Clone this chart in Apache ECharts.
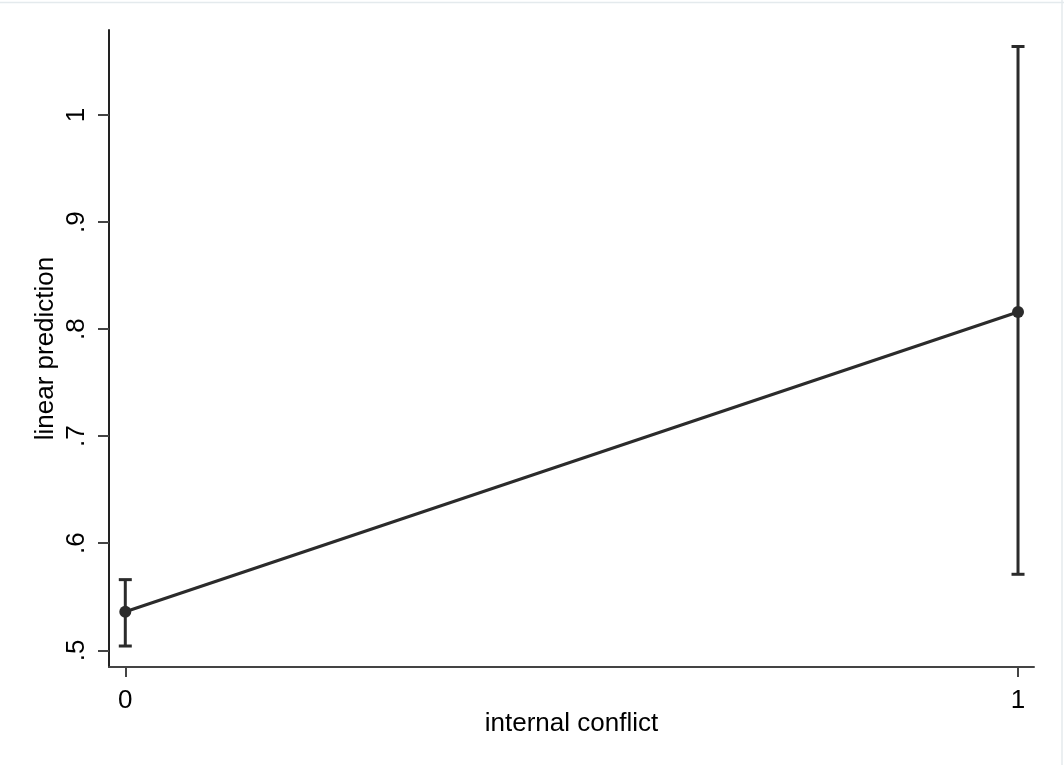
<!DOCTYPE html>
<html>
<head>
<meta charset="utf-8">
<script src="https://cdn.jsdelivr.net/npm/echarts@6/dist/echarts.min.js"></script>
<style>
  html, body { margin: 0; padding: 0; background: #ffffff; }
  #chart { width: 1064px; height: 765px; }
</style>
</head>
<body>
<div id="chart"></div>
<script>
// Predicted values with 95% confidence intervals by internal conflict status
const categories = [0, 1];
const predicted = [0.536, 0.816];
const ciLower = [0.504, 0.571];
const ciUpper = [0.566, 1.064];
const yTicks = [0.5, 0.6, 0.7, 0.8, 0.9, 1];
const xTicks = [0, 1];
const yTickLabels = ['.5', '.6', '.7', '.8', '.9', '1'];

const ink = '#2b2b2b';
const font = '"Liberation Sans", Arial, sans-serif';

const chart = echarts.init(document.getElementById('chart'), null, { renderer: 'canvas' });

const barData = categories.map((c, i) => [c, ciLower[i], ciUpper[i]]);
const pointData = categories.map((c, i) => [c, predicted[i]]);

chart.setOption({
  backgroundColor: '#ffffff',
  animation: false,
  grid: { left: 109, right: 30, top: 30, bottom: 98, containLabel: false },
  xAxis: {
    type: 'value',
    min: -0.01825,
    max: 1.0179,
    name: 'internal conflict',
    nameLocation: 'middle',
    nameGap: 44,
    nameMoveOverlap: false,
    nameTextStyle: { color: '#000', fontSize: 26, fontFamily: font },
    axisLine: { show: true, onZero: false, lineStyle: { color: '#444', width: 2 } },
    axisTick: { show: true, customValues: xTicks, length: 10, lineStyle: { color: '#444', width: 2 } },
    axisLabel: {
      customValues: xTicks,
      color: '#000', fontSize: 26, fontFamily: font, margin: 21,
      formatter: v => String(v)
    },
    splitLine: { show: false }
  },
  yAxis: {
    type: 'value',
    min: 0.4844,
    max: 1.0794,
    name: 'linear prediction',
    nameLocation: 'middle',
    nameRotate: 90,
    nameGap: 50,
    nameMoveOverlap: false,
    nameTextStyle: { color: '#000', fontSize: 26, fontFamily: font },
    axisLine: { show: true, onZero: false, lineStyle: { color: '#222', width: 2 } },
    axisTick: { show: true, customValues: yTicks, length: 11, lineStyle: { color: '#444', width: 2 } },
    axisLabel: {
      customValues: yTicks,
      rotate: 90,
      color: '#000', fontSize: 26, fontFamily: font, margin: 19,
      formatter: v => yTickLabels[yTicks.findIndex(t => Math.abs(t - v) < 1e-9)]
    },
    splitLine: { show: false }
  },
  series: [
    {
      type: 'custom',
      data: barData,
      z: 2,
      renderItem: function (params, api) {
        const x = api.value(0);
        const lo = api.coord([x, api.value(1)]);
        const hi = api.coord([x, api.value(2)]);
        const half = 6.5;
        const style = { stroke: ink, lineWidth: 3 };
        return {
          type: 'group',
          children: [
            { type: 'line', shape: { x1: lo[0], y1: lo[1], x2: hi[0], y2: hi[1] }, style },
            { type: 'line', shape: { x1: hi[0] - half, y1: hi[1], x2: hi[0] + half, y2: hi[1] }, style },
            { type: 'line', shape: { x1: lo[0] - half, y1: lo[1], x2: lo[0] + half, y2: lo[1] }, style }
          ]
        };
      }
    },
    {
      type: 'line',
      data: pointData,
      z: 3,
      symbol: 'circle',
      symbolSize: 12,
      lineStyle: { color: ink, width: 3 },
      itemStyle: { color: ink }
    }
  ],
  graphic: [
    { type: 'line', shape: { x1: 0, y1: 2.5, x2: 1064, y2: 2.5 }, style: { stroke: '#e4eaed', lineWidth: 1.5 } },
    { type: 'line', shape: { x1: 1062, y1: 0, x2: 1062, y2: 765 }, style: { stroke: '#e4eaed', lineWidth: 1.5 } }
  ]
});
</script>
</body>
</html>
